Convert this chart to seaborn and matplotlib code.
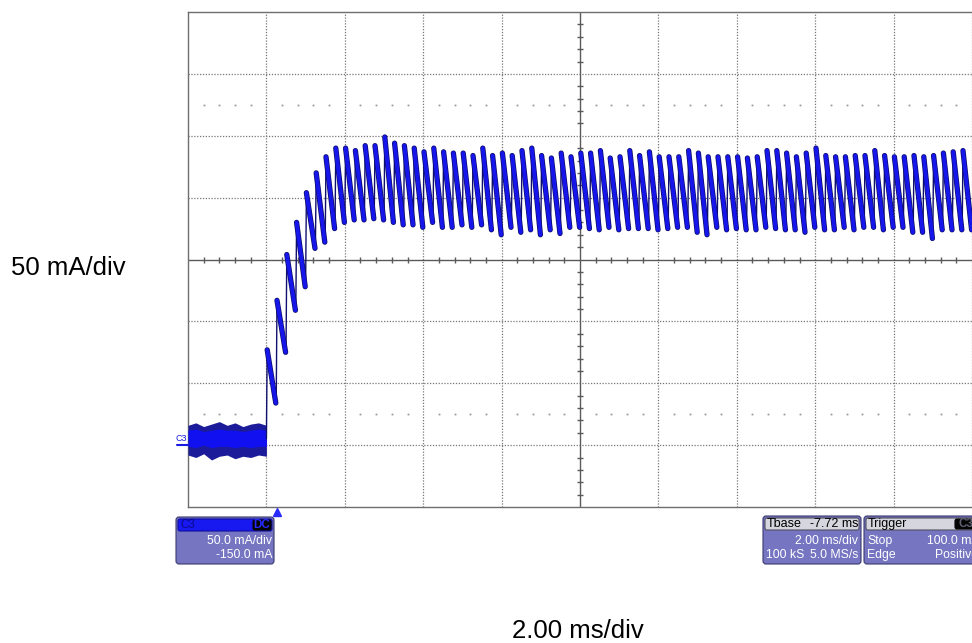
import numpy as np
import pandas as pd
import matplotlib
matplotlib.use("Agg")
import matplotlib.pyplot as plt
from matplotlib.patches import FancyBboxPatch
from matplotlib.transforms import IdentityTransform
import matplotlib.patheffects as pe
import seaborn as sns

# ---------------- data ----------------
# horizontal: 2.00 ms/div, 10 div ; vertical: 50 mA/div, 8 div, offset -150 mA
x_grid = [0, 2, 4, 6, 8, 10, 12, 14, 16, 18, 20]          # ms
y_grid = [-50, 0, 50, 100, 150, 200, 250, 300, 350]        # mA

# baseline noise band before the step (0 .. 2 ms)
base_t = [0.0, 0.2, 0.4, 0.6, 0.8, 1.0, 1.2, 1.4, 1.6, 1.8, 2.0]
base_top = [16, 18, 15, 17, 19, 16, 18, 15, 17, 18, 16]
base_bot = [-8, -10, -7, -12, -9, -8, -11, -9, -10, -8, -9]
base_core_top = [12, 13, 11, 12, 13, 12, 12, 11, 12, 13, 12]
base_core_bot = [-1, -2, 0, -2, -1, -1, -2, -1, -2, -1, -1]
base_level = 5

# sawtooth ripple: rise instants (ms), peak and trough of each tooth (mA)
rise_t = [2.0, 2.25, 2.5, 2.75, 3.0, 3.25, 3.5, 3.75, 4.0, 4.25, 4.5, 4.75,
          5.0, 5.25, 5.5, 5.75, 6.0, 6.25, 6.5, 6.75, 7.0, 7.25, 7.5, 7.75,
          8.0, 8.25, 8.5, 8.75, 9.0, 9.25, 9.5, 9.75, 10.0, 10.25, 10.5, 10.75,
          11.0, 11.25, 11.5, 11.75, 12.0, 12.25, 12.5, 12.75, 13.0, 13.25, 13.5, 13.75,
          14.0, 14.25, 14.5, 14.75, 15.0, 15.25, 15.5, 15.75, 16.0, 16.25, 16.5, 16.75,
          17.0, 17.25, 17.5, 17.75, 18.0, 18.25, 18.5, 18.75, 19.0, 19.25, 19.5, 19.75]
peak_mA = [77, 117, 154, 180, 204, 220, 233, 240, 240, 238, 242, 242,
           249, 244, 242, 240, 237, 240, 237, 236, 236, 234, 240, 234,
           236, 234, 238, 240, 234, 232, 236, 233, 236, 236, 238, 232,
           233, 238, 234, 237, 233, 233, 233, 238, 236, 233, 233, 233,
           233, 232, 233, 238, 238, 236, 233, 236, 240, 234, 233, 233,
           234, 234, 238, 234, 233, 233, 234, 233, 234, 236, 237, 238]
trough_mA = [34, 75, 109, 128, 159, 164, 175, 180, 182, 182, 183, 182,
             180, 178, 178, 176, 180, 176, 176, 178, 176, 178, 174, 170,
             176, 172, 174, 170, 174, 171, 176, 176, 175, 174, 176, 174,
             175, 175, 175, 174, 175, 176, 176, 172, 170, 176, 174, 175,
             174, 174, 176, 175, 174, 174, 172, 176, 174, 174, 176, 174,
             176, 176, 174, 176, 176, 172, 172, 167, 174, 174, 174, 174]
t_end = 20.0
trigger_t = 2.27

# ---------------- build trace segments ----------------
fall_rows, rise_rows = [], []
prev = base_level
for k, t0 in enumerate(rise_t):
    t1 = rise_t[k + 1] if k + 1 < len(rise_t) else t_end
    rise_rows += [(k, t0, prev), (k, t0 + 0.02, peak_mA[k])]
    fall_rows += [(k, t0 + 0.02, peak_mA[k]), (k, t1 - 0.01, trough_mA[k])]
    prev = trough_mA[k]
fall = pd.DataFrame(fall_rows, columns=["tooth", "t", "mA"])
rise = pd.DataFrame(rise_rows, columns=["tooth", "t", "mA"])

# ---------------- figure ----------------
sns.set_theme(style="white")
plt.rcParams["font.family"] = ["Liberation Sans", "DejaVu Sans"]
W, H = 972, 643
fig = plt.figure(figsize=(W / 100, H / 100), dpi=100)
fig.patch.set_facecolor("white")
ax = fig.add_axes([188 / W, 1 - 507 / H, 784 / W, 495 / H])
ax.set_facecolor("white")
ax.set_xlim(0, 20)
ax.set_ylim(-50, 350)
ax.set_xticks([])
ax.set_yticks([])
for s in ["left", "top", "bottom"]:
    ax.spines[s].set_color("#6e6e6e")
    ax.spines[s].set_linewidth(1.0)
ax.spines["right"].set_visible(False)

gcol = "#767676"
for xv in x_grid[1:]:
    if xv != 10:
        ax.axvline(xv, color=gcol, lw=0.9, ls=(0, (1, 1.3)), zorder=1)
for hv in y_grid[1:-1]:
    if hv != 150:
        ax.axhline(hv, color=gcol, lw=0.9, ls=(0, (1, 1.3)), zorder=1)
ax.axvline(10, color="#5a5a5a", lw=1.0, zorder=1)
ax.axhline(150, color="#5a5a5a", lw=1.0, zorder=1)

# sub-division ticks on the centre axes
sub_x = [x for x in np.arange(0, 20.01, 0.4) if abs(x / 2 - round(x / 2)) > 1e-6]
sub_y = [y for y in np.arange(-50, 350.1, 10) if y % 50 != 0]
ax.plot(sub_x, [150] * len(sub_x), ls="none", marker="|", ms=5, mew=1.0,
        color="#5a5a5a", zorder=1)
ax.plot([10] * len(sub_y), sub_y, ls="none", marker="_", ms=5, mew=1.0,
        color="#5a5a5a", zorder=1)
# dotted marker rows at +-2.5 div
for yy in [275, 25]:
    ax.plot(sub_x, [yy] * len(sub_x), ls="none", marker="s", ms=1.3, mew=0,
            color="#9a9a9a", zorder=1)

# baseline noise band
ax.fill_between(base_t, base_bot, base_top, color="#1c1c9a", lw=0, zorder=3)
ax.fill_between(base_t, base_core_bot, base_core_top, color="#1010f0", lw=0, zorder=3)

# sawtooth trace: thin steep rises, thick noisy falling ramps
n0 = len(ax.lines)
sns.lineplot(data=rise, x="t", y="mA", units="tooth", sort=False, estimator=None,
             color="#10106e", lw=1.0, ax=ax, legend=False)
sns.lineplot(data=fall, x="t", y="mA", units="tooth", sort=False, estimator=None,
             color="#1616ea", lw=2.8, ax=ax, legend=False)
for ln in ax.lines[n0:]:
    ln.set_zorder(4)
    if ln.get_linewidth() > 2:
        ln.set_path_effects([pe.Stroke(linewidth=3.8, foreground="#0c0c66"),
                             pe.Normal()])
ax.set_xlabel("")
ax.set_ylabel("")

# channel marker and trigger marker
ax.plot([-0.28, 0], [0, 0], color="#1a1ae0", lw=1.5, clip_on=False, zorder=5)
ax.text(-0.03, 2, "C3", color="#1a1ae0", fontsize=6.5, ha="right", va="bottom",
        clip_on=False)
ax.plot([trigger_t], [-54], marker="^", ms=6, color="#2a2aff", clip_on=False,
        zorder=5, ls="none")

# ---------------- info boxes (pixel coords, origin top-left) ----------------
tr = IdentityTransform()


def box(x0, y0, x1, y1, fc, ec="#3a3a70", r=3, lw=0.8, z=10):
    p = FancyBboxPatch((x0, H - y1), x1 - x0, y1 - y0,
                       boxstyle=f"round,pad=0,rounding_size={r}",
                       fc=fc, ec=ec, lw=lw, transform=tr, zorder=z)
    fig.patches.append(p)


def txt(x, y, s, ha="left", color="white", size=8.8, weight="normal"):
    fig.text(x / W, 1 - y / H, s, ha=ha, va="center", color=color,
             fontsize=size, fontweight=weight, zorder=20)


body = "#7575c2"
# C3 box
box(176, 517, 274, 564, body)
box(178, 519, 272, 531, "#1818f0", ec="#1010a0", r=2)
box(253, 520, 271, 530, "#050505", ec="#050505", r=2, z=11)
txt(180, 525, "C3", color="#0a0a90", size=8.4)
txt(262, 525, "DC", ha="center", color="#2828ff", size=8.4, weight="bold")
txt(272, 541, "50.0 mA/div", ha="right")
txt(272, 555, "-150.0 mA", ha="right")

# Tbase box
box(763, 516, 861, 564, body)
box(765, 518, 859, 530, "#d6d6de", ec="#505060", r=2)
txt(767, 524, "Tbase", color="black", size=9)
txt(858, 524, "-7.72 ms", ha="right", color="black", size=9)
txt(858, 541, "2.00 ms/div", ha="right")
txt(766, 555, "100 kS")
txt(858, 555, "5.0 MS/s", ha="right")

# Trigger box (cut by the right edge of the screenshot)
box(864, 516, 990, 564, body)
box(866, 518, 988, 530, "#d6d6de", ec="#505060", r=2)
box(955, 519, 978, 529, "#050505", ec="#050505", r=2, z=11)
txt(868, 524, "Trigger", color="black", size=9)
txt(958, 524, "C3", color="#606070", size=8.4, weight="bold")
txt(867, 541, "Stop")
txt(980, 541, "100.0 mA", ha="right")
txt(867, 555, "Edge")
txt(978, 555, "Positive", ha="right")

# axis captions
fig.text(68 / W, 1 - 268 / H, "50 mA/div", ha="center", va="center",
         fontsize=18.5, color="black")
fig.text(578 / W, 1 - 631 / H, "2.00 ms/div", ha="center", va="center",
         fontsize=18.5, color="black")

fig.savefig("out.png", dpi=100, facecolor="white")
